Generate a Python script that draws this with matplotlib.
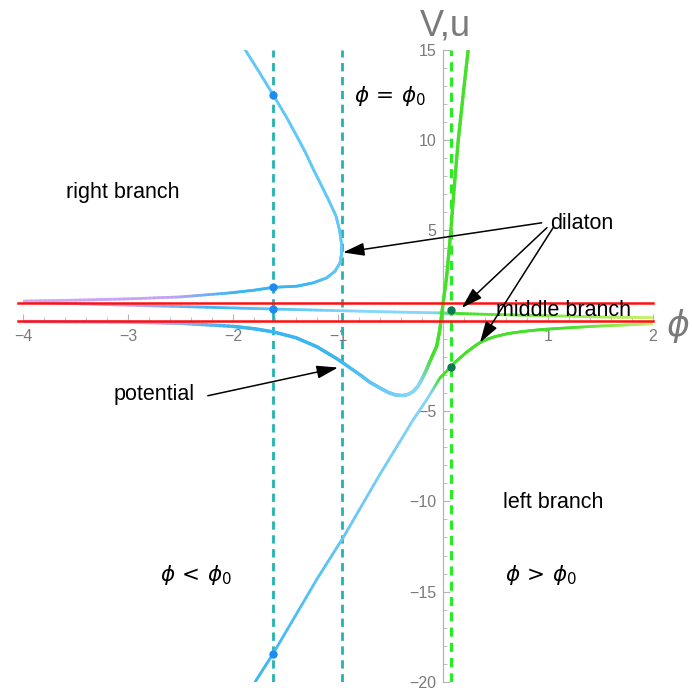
import numpy as np
import matplotlib
matplotlib.use('Agg')
import matplotlib.pyplot as plt
from matplotlib.collections import LineCollection
from matplotlib.colors import to_rgba

plt.rcParams['font.family'] = ['Liberation Sans', 'DejaVu Sans']
plt.rcParams['mathtext.fontset'] = 'dejavusans'

# 곡선 데이터
right_x = [-4.0, -3.5, -3.0, -2.5, -2.03, -1.8, -1.616, -1.393, -1.235, -1.108, -1.029,
           -0.981, -0.965, -0.968, -0.985, -1.02, -1.092, -1.16, -1.235, -1.31, -1.393,
           -1.5, -1.616, -1.75, -1.886]
right_y = [1.08, 1.13, 1.2, 1.31, 1.53, 1.68, 1.84, 1.9, 2.09, 2.36, 2.73,
           3.19, 3.75, 4.3, 5.0, 5.8, 6.7, 7.5, 8.37, 9.3, 10.21,
           11.35, 12.47, 13.75, 15.0]

middle_x = [-4.0, -3.0, -2.0, -1.62, -1.0, -0.5, 0.0, 0.1, 0.5, 1.0, 1.5, 2.0]
middle_y = [1.02, 0.85, 0.7, 0.64, 0.55, 0.48, 0.42, 0.4, 0.33, 0.27, 0.2, 0.16]

pot_x = [-4.0, -3.0, -2.5, -2.0, -1.8, -1.62, -1.4, -1.2, -1.0, -0.79, -0.7, -0.6,
         -0.52, -0.45, -0.38, -0.33, -0.283, -0.24, -0.203, -0.16, -0.124, -0.06,
         -0.03, -0.003, 0.035, 0.073, 0.108, 0.146, 0.194, 0.241]
pot_y = [-0.05, -0.09, -0.15, -0.32, -0.45, -0.62, -0.95, -1.45, -2.15, -3.0, -3.4, -3.73,
         -3.98, -4.12, -4.15, -4.08, -3.92, -3.65, -3.27, -2.75, -2.25, -1.42,
         -0.5, 0.79, 2.45, 4.86, 7.44, 10.03, 12.6, 15.05]

low_x = [-1.79, -1.62, -1.2, -0.95, -0.6, -0.283, -0.155, -0.029, 0.074, 0.12, 0.162,
         0.21, 0.257, 0.3, 0.352, 0.42, 0.5, 0.62, 0.75, 0.88, 1.0, 1.25, 1.5, 1.75, 2.0]
low_y = [-20.0, -18.45, -14.3, -12.0, -8.5, -5.48, -4.38, -3.18, -2.57, -2.28, -2.07,
         -1.82, -1.61, -1.42, -1.22, -1.03, -0.88, -0.72, -0.61, -0.53, -0.47, -0.38,
         -0.3, -0.24, -0.18]

# 점 데이터
blue_dot_x = [-1.616, -1.616, -1.616, -1.616]
blue_dot_y = [12.47, 1.86, 0.64, -18.45]
green_dot_x = [0.074, 0.074]
green_dot_y = [0.57, -2.57]

phi_a = -1.616   # 청록 점선
phi_0 = -0.965   # phi = phi0
phi_b = 0.074    # 초록 점선
red_levels = [1.0, 0.0]

purple = '#c2a4f6'
blue = '#3cb6f2'
light = '#86d6f8'
green = '#45e02a'
yellow = '#c9f06a'


def grad_line(ax, xs, ys, key, stops, colors, lw, z=3):
    # 선분을 잘게 나눠서 색만 점점 바꿔 그림
    px, py = [], []
    for i in range(len(xs) - 1):
        t = np.linspace(0, 1, 12, endpoint=False)
        px.extend(xs[i] + (xs[i + 1] - xs[i]) * t)
        py.extend(ys[i] + (ys[i + 1] - ys[i]) * t)
    px.append(xs[-1])
    py.append(ys[-1])
    px = np.array(px)
    py = np.array(py)
    pts = np.column_stack([px, py]).reshape(-1, 1, 2)
    segs = np.concatenate([pts[:-1], pts[1:]], axis=1)
    k = key(px, py)
    km = (k[:-1] + k[1:]) / 2
    rgb = np.array([to_rgba(c) for c in colors])
    cols = np.column_stack([np.interp(km, stops, rgb[:, j]) for j in range(4)])
    lc = LineCollection(segs, colors=cols, linewidths=lw, zorder=z, capstyle='round',
                        joinstyle='round')
    ax.add_collection(lc)


fig = plt.figure(figsize=(6.92, 6.93), dpi=100)
ax = fig.add_axes([23 / 692, 11 / 693, 630 / 692, 632.5 / 693])
ax.set_xlim(-4, 2)
ax.set_ylim(-20, 15)

# 축 설정 (원점에서 교차)
for s in ['top', 'right']:
    ax.spines[s].set_visible(False)
ax.spines['left'].set_position(('data', 0))
ax.spines['bottom'].set_position(('data', 0))
for s in ['left', 'bottom']:
    ax.spines[s].set_color('#b5b5b5')
    ax.spines[s].set_linewidth(0.9)
ax.set_xticks([-4, -3, -2, -1, 1, 2])
ax.set_xticks(np.arange(-4, 2.01, 0.2), minor=True)
ax.set_yticks([-20, -15, -10, -5, 5, 10, 15])
ax.set_yticks(np.arange(-20, 15.1, 1), minor=True)
ax.tick_params(which='both', direction='in', color='#b5b5b5', labelcolor='#7a7a7a',
               labelsize=11.5)
ax.tick_params(which='major', length=5)
ax.tick_params(which='minor', length=3)
ax.tick_params(axis='x', pad=6)
ax.tick_params(axis='y', pad=5)
ax.set_facecolor('none')

# 점선들
ax.axvline(phi_a, color='#22b3b0', lw=2, ls=(0, (3, 2)), zorder=2)
ax.axvline(phi_0, color='#22b3b0', lw=2, ls=(0, (3, 2)), zorder=2)
ax.axvline(phi_b, color='#22ee22', lw=2.2, ls=(0, (3, 2)), zorder=2)

# 곡선들
grad_line(ax, right_x, right_y, lambda x, y: np.where(y > 3, -1.0, x),
          [-4, -2.6, -2.0, -1.3, -1.0, -0.97],
          ['#d4a8f0', purple, blue, blue, '#62c8f8', '#62c8f8'], 2.0)
grad_line(ax, middle_x, middle_y, lambda x, y: x,
          [-4, -3, -2.2, -0.8, -0.1, 0.15, 1.3, 2.0],
          ['#d4a8f0', purple, blue, light, light, green, '#9aea50', yellow], 2.0)
grad_line(ax, pot_x, pot_y, lambda x, y: x,
          [-4, -2.8, -2.0, -1.0, -0.3, -0.22, -0.1, 0.3],
          ['#d4a8f0', purple, blue, blue, light, light, green, green], 2.4)
grad_line(ax, low_x, low_y, lambda x, y: x,
          [-1.8, -0.8, -0.12, -0.02, 1.2, 2.0],
          [blue, '#6ccaf6', light, green, green, yellow], 2.0)

# 빨간 수평선
for lv in red_levels:
    ax.plot([-4.05, 2], [lv, lv], color='#ff1010', lw=1.8, zorder=4, clip_on=False)

ax.plot(blue_dot_x, blue_dot_y, 'o', color='#1c8cf2', ms=5, zorder=5)
ax.plot(green_dot_x, green_dot_y, 'o', color='#0a7850', ms=5, zorder=5)

# 텍스트
fs = 15.5
ax.text(-3.05, 7.09, 'right branch', fontsize=fs, ha='center', va='center')
ax.text(-0.5, 12.4, r'$\phi\,=\,\phi_0$', fontsize=fs, ha='center', va='center')
ax.text(1.32, 5.37, 'dilaton', fontsize=fs, ha='center', va='center')
ax.text(1.15, 0.55, 'middle branch', fontsize=fs, ha='center', va='center', zorder=6)
ax.text(-2.75, -4.1, 'potential', fontsize=fs, ha='center', va='center')
ax.text(1.05, -10.08, 'left branch', fontsize=fs, ha='center', va='center')
ax.text(-2.35, -14.07, r'$\phi\,<\,\phi_0$', fontsize=fs, ha='center', va='center')
ax.text(0.93, -14.07, r'$\phi\,>\,\phi_0$', fontsize=fs, ha='center', va='center')
ax.text(0.02, 16.3, 'V,u', fontsize=26, color='#7a7a7a', ha='center', va='center',
        clip_on=False)
ax.text(2.235, -0.3, r'$\phi$', fontsize=25, color='#7a7a7a', ha='center', va='center',
        clip_on=False)

# 화살표
arrows = [((0.94, 5.41), (-0.952, 3.77)),
          ((0.99, 5.14), (0.178, 0.70)),
          ((1.05, 5.15), (0.352, -1.22)),
          ((-2.24, -4.16), (-1.0, -2.6))]
for tail, tip in arrows:
    ax.annotate('', xy=tip, xytext=tail, zorder=7,
                arrowprops=dict(arrowstyle='-|>,head_length=0.65,head_width=0.2',
                                color='black', lw=1.1, mutation_scale=20,
                                shrinkA=0, shrinkB=0))

fig.savefig('out.png', dpi=100)
